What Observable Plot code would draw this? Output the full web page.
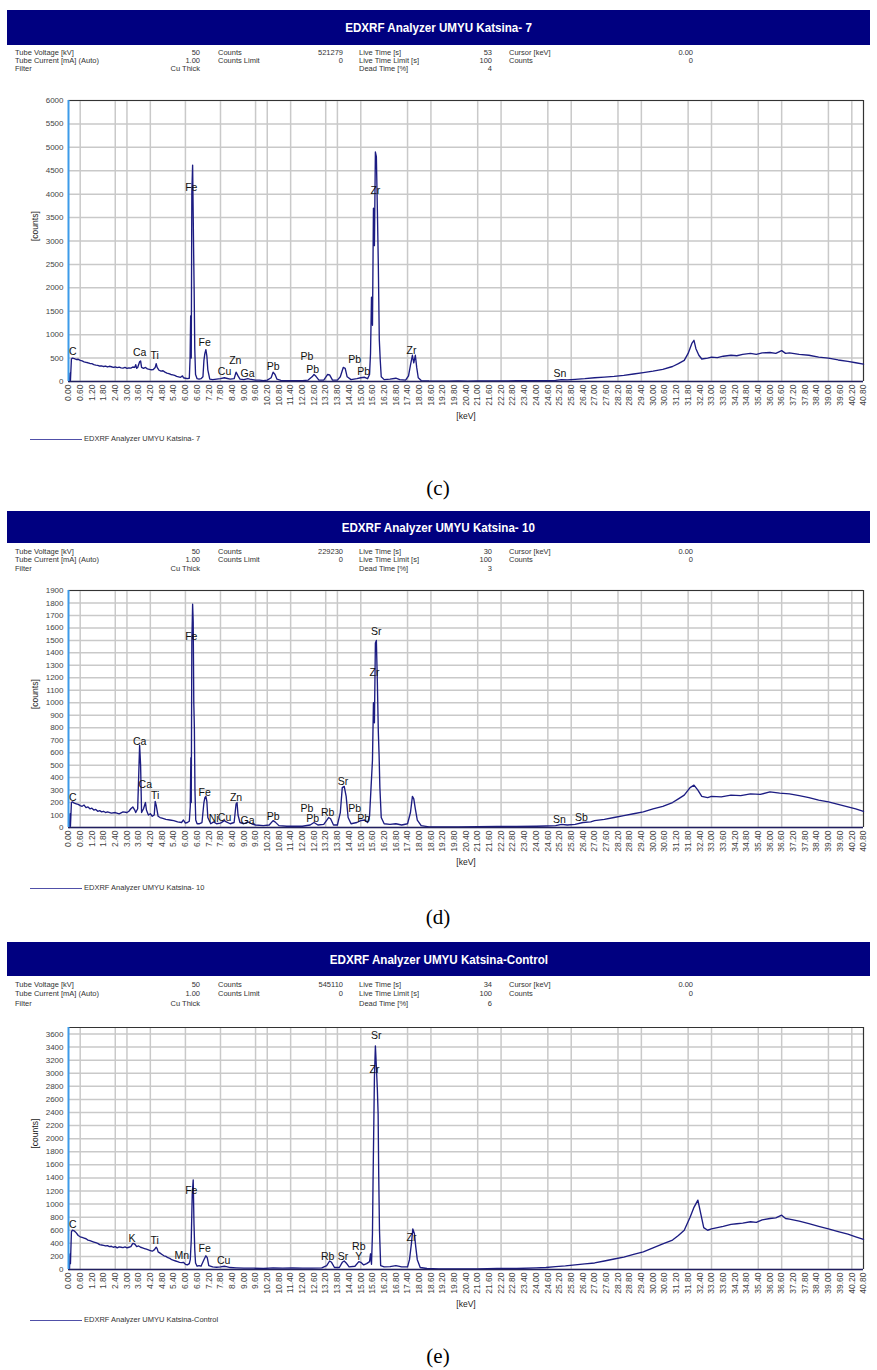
<!DOCTYPE html>
<html><head><meta charset="utf-8">
<script src="https://cdn.jsdelivr.net/npm/d3@7"></script>
<script src="https://cdn.jsdelivr.net/npm/@observablehq/plot@0.6"></script>
<style>
body{margin:0;background:#fff;}
#page{position:relative;width:877px;height:1370px;overflow:hidden;font-family:Arial,"Liberation Sans",sans-serif;}
.bar{position:absolute;left:7px;width:863px;background:#000080;color:#fff;font-weight:bold;font-size:13.5px;display:flex;align-items:center;justify-content:center;}
.bar span{display:inline-block;transform:scaleX(0.86);white-space:nowrap;}
.info{position:absolute;font-size:7.5px;color:#333;white-space:nowrap;line-height:8px;}
.r{text-align:right;}
.legline{position:absolute;height:0;border-top:1.5px solid #5050a8;}
.legtxt{position:absolute;font-size:7.5px;color:#333;white-space:nowrap;line-height:8px;}
.cap{position:absolute;font-family:"Liberation Serif","DejaVu Serif",serif;font-size:21px;transform:translate(-50%,-50%);}
svg.plotsvg{position:absolute;left:0;}
</style></head><body><div id="page"></div>
<script>
// ---------- axis tick labels ----------
const xTickLabels = ["0.00","0.60","1.20","1.80","2.40","3.00","3.60","4.20","4.80","5.40","6.00","6.60","7.20","7.80","8.40","9.00","9.60","10.20","10.80","11.40","12.00","12.60","13.20","13.80","14.40","15.00","15.60","16.20","16.80","17.40","18.00","18.60","19.20","19.80","20.40","21.00","21.60","22.20","22.80","23.40","24.00","24.60","25.20","25.80","26.40","27.00","27.60","28.20","28.80","29.40","30.00","30.60","31.20","31.80","32.40","33.00","33.60","34.20","34.80","35.40","36.00","36.60","37.20","37.80","38.40","39.00","39.60","40.20","40.80"];
const gridTickIdx = [1,4,5,7,10,13,16,17,19,22,23,25,29,31,35,37,41,43,47,49,53,55,59,61,65,67];
const cYTicks = [0,500,1000,1500,2000,2500,3000,3500,4000,4500,5000,5500,6000];
const dYTicks = [0,100,200,300,400,500,600,700,800,900,1000,1100,1200,1300,1400,1500,1600,1700,1800,1900];
const eYTicks = [0,200,400,600,800,1000,1200,1400,1600,1800,2000,2200,2400,2600,2800,3000,3200,3400,3600];

// ---------- header info ----------
const infoLabels1 = ["Tube Voltage [kV]","Tube Current [mA] (Auto)","Filter"];
const infoLabels2 = ["Counts","Counts Limit",""];
const infoLabels3 = ["Live Time [s]","Live Time Limit [s]","Dead Time [%]"];
const infoLabels4 = ["Cursor [keV]","Counts",""];
const titles = ["EDXRF Analyzer UMYU Katsina- 7","EDXRF Analyzer UMYU Katsina- 10","EDXRF Analyzer UMYU Katsina-Control"];
const captions = ["(c)","(d)","(e)"];
const cInfo1 = ["50","1.00","Cu Thick"], cInfo2 = ["521279","0",""], cInfo3 = ["53","100","4"], cInfo4 = ["0.00","0",""];
const dInfo1 = ["50","1.00","Cu Thick"], dInfo2 = ["229230","0",""], dInfo3 = ["30","100","3"], dInfo4 = ["0.00","0",""];
const eInfo1 = ["50","1.00","Cu Thick"], eInfo2 = ["545110","0",""], eInfo3 = ["34","100","6"], eInfo4 = ["0.00","0",""];

// ---------- spectrum (c) Katsina-7 ----------
const cKeV = [0.05,0.08,0.1,0.15,0.2,0.3,0.4,0.5,0.6,0.7,0.8,0.9,1.0,1.1,1.2,1.3,1.4,1.5,1.6,1.7,1.8,1.9,2.0,2.1,2.2,2.3,2.4,2.5,2.6,2.7,2.8,2.9,3.0,3.1,3.2,3.3,3.4,3.45,3.5,3.55,3.65,3.7,3.75,3.85,3.95,4.05,4.15,4.25,4.35,4.45,4.5,4.55,4.65,4.75,4.85,4.95,5.05,5.15,5.25,5.35,5.45,5.55,5.65,5.75,5.85,5.9,6.0,6.1,6.2,6.24,6.27,6.3,6.33,6.37,6.42,6.45,6.48,6.52,6.6,6.7,6.8,6.9,6.95,7.0,7.05,7.1,7.15,7.25,7.4,7.6,7.8,8.0,8.1,8.3,8.5,8.6,8.7,8.8,9.0,9.2,9.3,9.6,9.8,10.0,10.2,10.4,10.5,10.6,10.7,10.9,11.2,11.6,12.0,12.3,12.5,12.6,12.7,12.85,13.1,13.3,13.4,13.55,13.8,13.95,14.1,14.2,14.3,14.5,14.8,15.0,15.2,15.35,15.45,15.5,15.55,15.6,15.65,15.7,15.75,15.8,15.85,15.9,15.95,16.0,16.05,16.2,16.5,16.8,17.0,17.3,17.45,17.55,17.65,17.72,17.8,17.87,17.95,18.1,18.5,19,19.5,20,20.5,21,21.5,22,22.5,23,23.5,24,24.5,25,25.3,25.6,26,26.5,27,27.5,28,28.5,29,29.5,30,30.5,31,31.3,31.6,31.8,32.0,32.1,32.2,32.35,32.5,32.8,33.0,33.3,33.6,34.0,34.3,34.6,35.0,35.3,35.6,36.0,36.3,36.6,36.8,37.0,37.5,38.0,38.5,39.0,39.5,40.0,40.4,40.8];
const cCounts = [0,180,20,480,500,490,470,475,450,440,420,410,400,385,380,360,350,345,330,335,320,330,310,325,315,300,310,295,305,290,285,300,280,290,285,310,300,360,280,300,420,440,300,280,300,270,260,250,255,300,380,300,240,220,230,200,180,170,150,140,130,110,100,90,120,80,70,60,70,500,1400,500,4050,4620,2850,1900,700,150,60,50,60,100,450,600,680,550,250,50,40,50,60,80,70,50,60,200,120,50,40,60,50,30,30,20,30,80,200,150,50,25,20,20,20,30,100,150,110,30,30,150,140,30,30,100,300,280,100,40,60,80,90,60,150,600,1800,1200,3700,2900,4900,4800,3700,2500,900,450,100,40,50,70,40,30,120,350,560,400,560,300,80,20,10,8,8,10,8,10,10,12,10,15,15,20,20,25,40,35,45,60,80,95,110,130,160,190,220,260,320,380,450,600,820,880,700,560,480,500,520,510,540,560,550,580,600,580,610,620,600,660,600,610,580,560,520,500,460,430,400,370];
const cLabelText = ["C","Ca","Ti","Fe","Fe","Cu","Zn","Ga","Pb","Pb","Pb","Pb","Pb","Zr","Zr","Sn"];
const cLabelKeV = [0.22,3.65,4.42,6.3,6.99,8.01,8.56,9.19,10.5,12.24,12.53,14.69,15.15,15.75,17.6,25.22];
const cLabelCounts = [630,607,558,4148,822,215,436,165,307,522,251,466,221,4083,650,178];

// ---------- spectrum (d) Katsina-10 ----------
const dKeV = [0.05,0.08,0.1,0.15,0.2,0.3,0.4,0.5,0.6,0.7,0.8,0.9,1.0,1.1,1.2,1.3,1.4,1.5,1.6,1.7,1.8,1.9,2.0,2.2,2.4,2.6,2.8,3.0,3.1,3.2,3.3,3.4,3.45,3.55,3.6,3.65,3.7,3.75,3.85,3.95,4.0,4.1,4.2,4.3,4.4,4.45,4.5,4.6,4.7,4.8,5.0,5.2,5.4,5.6,5.8,5.9,6.0,6.1,6.2,6.25,6.28,6.3,6.33,6.37,6.4,6.43,6.46,6.49,6.53,6.6,6.7,6.85,6.95,7.0,7.05,7.1,7.15,7.3,7.45,7.6,7.8,8.0,8.1,8.3,8.5,8.6,8.65,8.7,8.8,9.0,9.2,9.4,9.6,10.0,10.3,10.5,10.6,10.8,11.2,11.6,12.0,12.4,12.6,12.8,13.1,13.35,13.45,13.6,13.8,13.95,14.05,14.15,14.25,14.35,14.5,14.8,15.0,15.2,15.35,15.45,15.52,15.6,15.65,15.7,15.75,15.8,15.85,15.9,15.94,15.98,16.05,16.2,16.5,16.8,17.1,17.4,17.55,17.65,17.72,17.8,17.9,18.1,18.5,19,20,21,22,23,24,24.5,25,25.3,25.6,26,26.4,26.8,27,27.5,28,28.5,29,29.5,30,30.5,31,31.3,31.6,31.9,32.1,32.3,32.5,32.8,33.0,33.5,34.0,34.5,35.0,35.5,36.0,36.5,37.0,37.5,38.0,38.5,39.0,39.5,40.0,40.4,40.8];
const dCounts = [0,110,10,200,205,195,190,185,175,170,180,160,165,150,155,140,145,130,135,125,130,120,125,115,120,110,125,120,130,150,165,140,120,150,400,660,500,120,150,200,140,100,110,90,100,210,180,90,80,75,65,60,55,45,40,60,35,40,50,170,560,200,1490,1790,1650,1000,800,300,60,30,30,40,200,240,250,210,80,30,45,30,35,55,45,30,40,190,200,100,40,30,45,30,20,15,20,55,45,15,10,10,10,20,40,20,25,80,70,20,20,120,320,330,250,80,30,40,55,60,40,90,300,540,1000,840,1480,1500,1170,770,580,320,80,30,25,30,20,30,120,250,230,150,60,15,5,5,5,6,8,8,10,12,15,25,20,25,40,45,55,65,80,95,110,125,150,170,200,230,260,320,340,300,250,240,250,245,260,255,270,265,285,275,270,255,240,220,205,185,165,150,130];
const dLabelText = ["C","Ca","Ca","Ti","Fe","Fe","Ni","Cu","Zn","Ga","Pb","Pb","Pb","Rb","Sr","Pb","Pb","Sr","Zr","Sn","Sb"];
const dLabelKeV = [0.22,3.65,3.94,4.45,6.3,6.99,7.45,8.01,8.6,9.19,10.5,12.24,12.53,13.3,14.09,14.69,15.15,15.8,15.7,25.2,26.32];
const dLabelCounts = [243,690,343,257,1527,283,75,83,243,56,88,155,75,118,369,155,75,1573,1238,62,78];

// ---------- spectrum (e) Katsina-Control ----------
const eKeV = [0.05,0.08,0.1,0.15,0.2,0.3,0.4,0.5,0.6,0.7,0.8,0.9,1.0,1.1,1.2,1.3,1.4,1.5,1.6,1.7,1.8,1.9,2.0,2.1,2.2,2.3,2.4,2.5,2.6,2.7,2.8,2.9,3.0,3.1,3.2,3.3,3.4,3.5,3.6,3.7,3.8,3.9,4.0,4.1,4.2,4.3,4.4,4.5,4.55,4.6,4.7,4.8,4.9,5.0,5.1,5.2,5.3,5.4,5.5,5.6,5.7,5.8,5.9,6.0,6.1,6.2,6.25,6.3,6.35,6.4,6.44,6.48,6.52,6.6,6.7,6.8,6.95,7.05,7.12,7.2,7.4,7.6,7.8,8.0,8.1,8.3,8.6,9.0,9.5,10.0,10.5,11.0,11.5,12.0,12.5,13.0,13.25,13.4,13.5,13.65,13.9,14.05,14.15,14.25,14.4,14.7,14.9,15.0,15.15,15.3,15.45,15.5,15.55,15.6,15.63,15.67,15.7,15.75,15.8,15.85,15.89,15.92,15.96,16.02,16.2,16.5,16.8,17.1,17.4,17.5,17.6,17.67,17.75,17.82,17.9,18.05,18.4,19,20,21,22,23,24,24.5,25,25.5,26,26.5,27,27.5,28,28.5,29,29.5,30,30.5,31,31.3,31.6,31.9,32.1,32.3,32.45,32.6,32.8,33.0,33.3,33.6,34.0,34.3,34.6,35.0,35.3,35.6,36.0,36.3,36.6,36.8,37.0,37.5,38.0,38.5,39.0,39.5,40.0,40.4,40.8];
const eCounts = [0,240,90,580,600,590,560,520,500,490,480,470,450,440,430,420,410,400,380,375,370,360,365,350,355,340,350,330,345,340,335,345,330,340,350,400,390,350,360,340,330,320,310,300,290,280,300,340,320,270,250,230,210,200,180,170,150,140,130,120,110,105,110,80,70,90,150,450,1150,1370,700,300,100,50,60,50,150,210,180,60,40,35,40,50,45,30,25,20,20,15,25,20,25,20,20,25,60,130,110,30,30,110,130,100,40,50,120,110,70,90,120,240,80,550,1360,2250,2930,3420,3100,2760,2380,1460,600,60,40,45,60,40,40,150,400,620,550,350,150,30,15,10,10,10,15,15,25,30,45,55,70,85,100,130,160,190,230,270,330,390,450,520,600,800,950,1060,850,640,600,620,640,660,690,700,710,730,720,760,780,790,830,780,770,740,700,660,620,580,540,500,460];
const eLabelText = ["C","K","Ti","Mn","Fe","Fe","Cu","Rb","Sr","Rb","Y","Sr","Zr","Zr"];
const eLabelKeV = [0.22,3.26,4.42,5.82,6.3,6.99,7.96,13.3,14.09,14.9,14.9,15.79,15.7,17.6];
const eLabelCounts = [682,478,442,213,1205,315,137,203,203,356,198,3580,3061,493];

// ---------- layout ----------
const page = document.getElementById("page");
const xTicks = xTickLabels.map(Number);
const gridTicks = gridTickIdx.map(i => xTicks[i]);

const panels = [
  {title: titles[0], cap: captions[0], keV: cKeV, counts: cCounts, lt: cLabelText, lk: cLabelKeV, lc: cLabelCounts, yTicks: cYTicks, ymax: 6000,
   info: [cInfo1, cInfo2, cInfo3, cInfo4], barTop: 10, barH: 35, infoY: 49, infoDy: 8, frameTop: 100, frameBottom: 381, legY: 439, capY: 488},
  {title: titles[1], cap: captions[1], keV: dKeV, counts: dCounts, lt: dLabelText, lk: dLabelKeV, lc: dLabelCounts, yTicks: dYTicks, ymax: 1900,
   info: [dInfo1, dInfo2, dInfo3, dInfo4], barTop: 511, barH: 32, infoY: 548, infoDy: 8.3, frameTop: 590, frameBottom: 827, legY: 888, capY: 917},
  {title: titles[2], cap: captions[2], keV: eKeV, counts: eCounts, lt: eLabelText, lk: eLabelKeV, lc: eLabelCounts, yTicks: eYTicks, ymax: 3700,
   info: [eInfo1, eInfo2, eInfo3, eInfo4], barTop: 942, barH: 34, infoY: 981, infoDy: 9.3, frameTop: 1027, frameBottom: 1269, legY: 1320, capY: 1356}
];

function el(cls, css, text) {
  const d = document.createElement("div");
  d.className = cls;
  Object.assign(d.style, css);
  if (text !== undefined) d.textContent = text;
  page.appendChild(d);
  return d;
}

for (const p of panels) {
  const bar = el("bar", {top: p.barTop + "px", height: p.barH + "px"});
  const s = document.createElement("span"); s.textContent = p.title; bar.appendChild(s);
  const cols = [
    {labels: infoLabels1, lx: 15, vals: p.info[0], vr: 200},
    {labels: infoLabels2, lx: 218, vals: p.info[1], vr: 343},
    {labels: infoLabels3, lx: 359, vals: p.info[2], vr: 492},
    {labels: infoLabels4, lx: 509, vals: p.info[3], vr: 693}
  ];
  for (const c of cols) {
    c.labels.forEach((t, i) => { if (t) el("info", {left: c.lx + "px", top: (p.infoY + i * p.infoDy) + "px"}, t); });
    c.vals.forEach((t, i) => { if (t) el("info r", {left: (c.vr - 60) + "px", width: "60px", top: (p.infoY + i * p.infoDy) + "px"}, t); });
  }
  const mt = 10, mb = 50;
  const data = p.keV.map((k, i) => ({k, c: p.counts[i]}));
  const labels = p.lt.map((t, i) => ({t, k: p.lk[i], c: p.lc[i]}));
  const chart = Plot.plot({
    width: 877,
    height: mt + (p.frameBottom - p.frameTop) + mb,
    marginLeft: 68, marginRight: 14, marginTop: mt, marginBottom: mb,
    style: {fontFamily: "Arial, 'Liberation Sans', sans-serif", fontSize: "8px", background: "transparent", overflow: "visible"},
    x: {domain: [0, 40.8]},
    y: {domain: [0, p.ymax]},
    marks: [
      Plot.ruleX(gridTicks, {stroke: "#c9c9c9", strokeWidth: 1.5}),
      Plot.ruleY(p.yTicks, {stroke: "#c9c9c9", strokeWidth: 1.5}),
      Plot.axisX({ticks: xTicks, tickFormat: d3.format(".2f"), tickRotate: -90, tickSize: 0, tickPadding: 3, label: null, color: "#444", fontSize: 8.5}),
      Plot.axisY({ticks: p.yTicks, tickFormat: d => String(d), tickSize: 0, tickPadding: 5, label: null, color: "#444"}),
      Plot.ruleY([p.ymax], {stroke: "#333", strokeWidth: 1.2}),
      Plot.ruleX([40.8], {stroke: "#333", strokeWidth: 1.2}),
      Plot.line(data, {x: "k", y: "c", stroke: "#1c1c82", strokeWidth: 1.35}),
      Plot.ruleY([0], {stroke: "#222060", strokeWidth: 1.5}),
      Plot.ruleX([0], {stroke: "#3d9be9", strokeWidth: 2}),
      Plot.text(labels, {x: "k", y: "c", text: "t", fontSize: 10.5, fill: "#111"}),
      Plot.text(["[keV]"], {frameAnchor: "bottom", dy: 37, text: d => d, fontSize: 8.5, fill: "#222"}),
      Plot.text(["[counts]"], {frameAnchor: "left", dx: -33, rotate: -90, text: d => d, fontSize: 8.5, fill: "#222"})
    ]
  });
  chart.classList.add("plotsvg");
  chart.style.top = (p.frameTop - mt) + "px";
  page.appendChild(chart);
  el("legline", {left: "30px", width: "52px", top: p.legY + "px"});
  el("legtxt", {left: "84px", top: (p.legY - 4) + "px"}, p.title);
  el("cap", {left: "438px", top: p.capY + "px"}, p.cap);
}
</script></body></html>
